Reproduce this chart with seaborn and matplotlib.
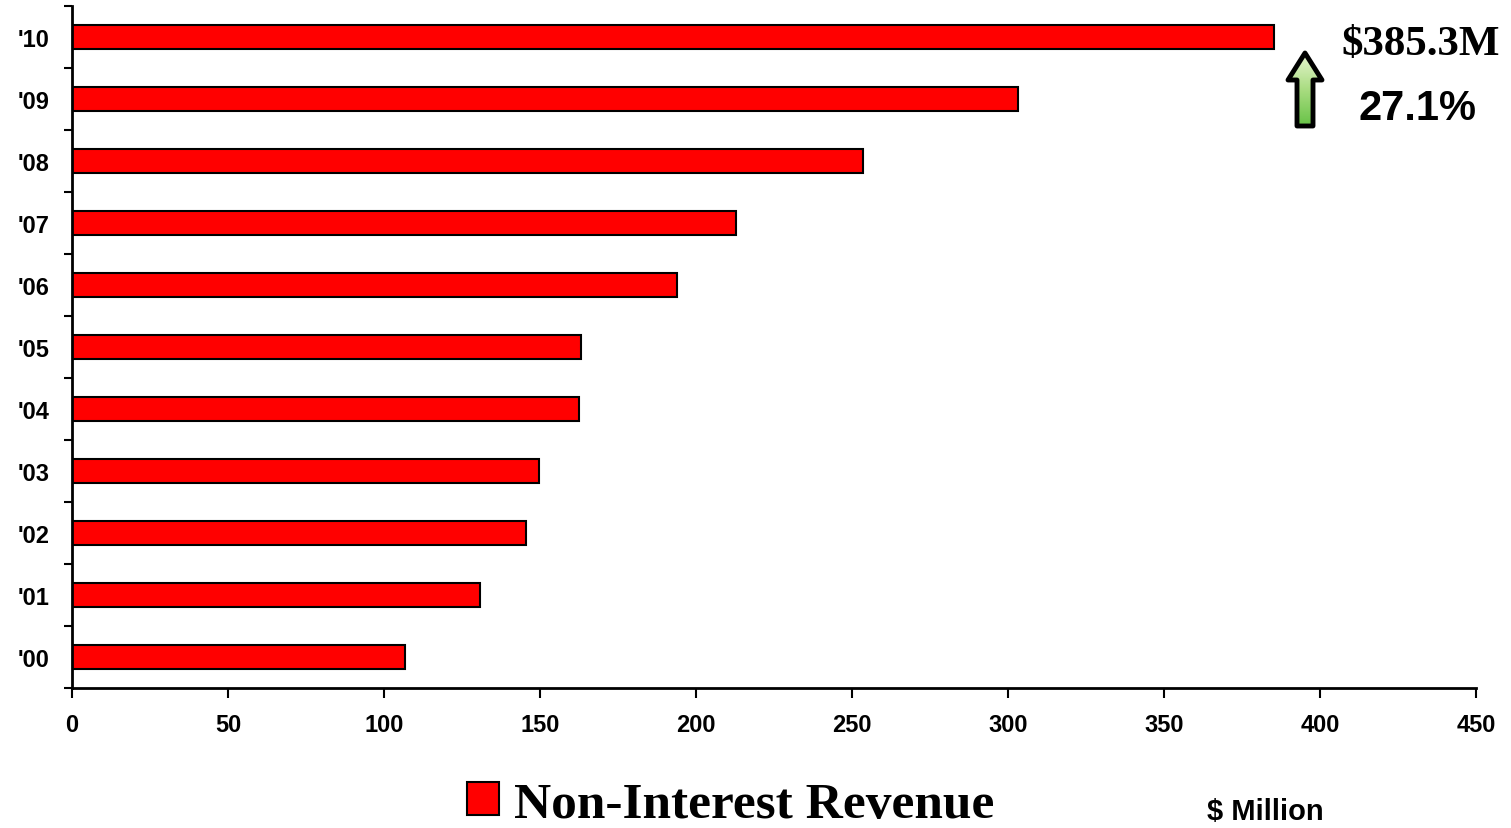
import numpy as np
import pandas as pd
import seaborn as sns
import matplotlib.pyplot as plt
from matplotlib.patches import Patch, FancyArrow
from matplotlib.ticker import FixedLocator
from matplotlib.colors import LinearSegmentedColormap

years = ["'00", "'01", "'02", "'03", "'04", "'05", "'06", "'07", "'08", "'09", "'10"]
revenue = [106.7, 130.8, 145.5, 149.7, 162.5, 163.1, 193.9, 212.8, 253.5, 303.2, 385.3]
x_ticks = [0, 50, 100, 150, 200, 250, 300, 350, 400, 450]

df = pd.DataFrame({'year': years, 'revenue': revenue})

sns.set_style('white')
plt.rcParams['font.family'] = ['Liberation Sans', 'DejaVu Sans']
plt.rcParams['text.color'] = 'black'
plt.rcParams['xtick.color'] = 'black'
plt.rcParams['ytick.color'] = 'black'
plt.rcParams['axes.labelcolor'] = 'black'

fig = plt.figure(figsize=(15.11, 8.29), dpi=100)
ax = fig.add_axes([72/1511, 1 - 689/829, (1476 - 72)/1511, (689 - 7)/829])

sns.barplot(data=df, x='revenue', y='year', order=years[::-1], orient='h',
            color='#ff0000', edgecolor='black', linewidth=1.5, width=0.39,
            saturation=1, ax=ax)

ax.set_xlim(0, 450)
ax.set_ylim(len(years) - 0.5, -0.5)
ax.set_xticks(x_ticks)
ax.set_xlabel('')
ax.set_ylabel('')
for s in ['top', 'right']:
    ax.spines[s].set_visible(False)
for s in ['left', 'bottom']:
    ax.spines[s].set_color('black')
    ax.spines[s].set_linewidth(2)

ax.yaxis.set_minor_locator(FixedLocator(np.arange(-0.5, len(years), 1.0)))
ax.tick_params(axis='y', which='major', length=0, pad=16, labelsize=17)
ax.tick_params(axis='y', which='minor', left=True, length=6, width=1.5, color='black', direction='out')
ax.tick_params(axis='x', which='major', bottom=True, length=7, width=1.5, color='black',
               direction='out', pad=11, labelsize=17)
for lab in ax.get_xticklabels() + ax.get_yticklabels():
    lab.set_fontweight('bold')

# legend and unit note
fig.legend(handles=[Patch(facecolor='#ff0000', edgecolor='black', linewidth=1.5)],
           labels=['Non-Interest Revenue'], loc='center', bbox_to_anchor=(0.4835, 0.028),
           frameon=False, handlelength=0.62, handleheight=0.62, handletextpad=0.3,
           prop={'family': 'Liberation Serif', 'weight': 'bold', 'size': 37})
fig.text(1265/1511, 1 - 812/829, '$ Million', ha='center', va='center',
         fontsize=21, fontweight='bold')

# annotation
fig.text(1421/1511, 1 - 45/829, '$385.3M', ha='center', va='center',
         family='Liberation Serif', fontsize=31, fontweight='bold')
fig.text(1418/1511, 1 - 109/829, '27.1%', ha='center', va='center',
         fontsize=30, fontweight='bold')

# green growth arrow with gradient fill
aax = fig.add_axes([1280/1511, 1 - 132/829, 50/1511, 82/829])
aax.set_xlim(0, 50)
aax.set_ylim(0, 82)
aax.axis('off')
arrow = FancyArrow(25, 5, 0, 73, width=16, head_width=34, head_length=27,
                   length_includes_head=True, facecolor='none', edgecolor='black',
                   linewidth=3.5, joinstyle='round', zorder=3)
aax.add_patch(arrow)
grad = np.linspace(0, 1, 100).reshape(-1, 1)
cmap = LinearSegmentedColormap.from_list('g', ['#5fbf3f', '#a8dc80', '#eef8d8'])
img = aax.imshow(grad, cmap=cmap, extent=[0, 50, 0, 82], origin='lower', aspect='auto', zorder=2)
img.set_clip_path(arrow)

fig.savefig('out.png', dpi=100)
